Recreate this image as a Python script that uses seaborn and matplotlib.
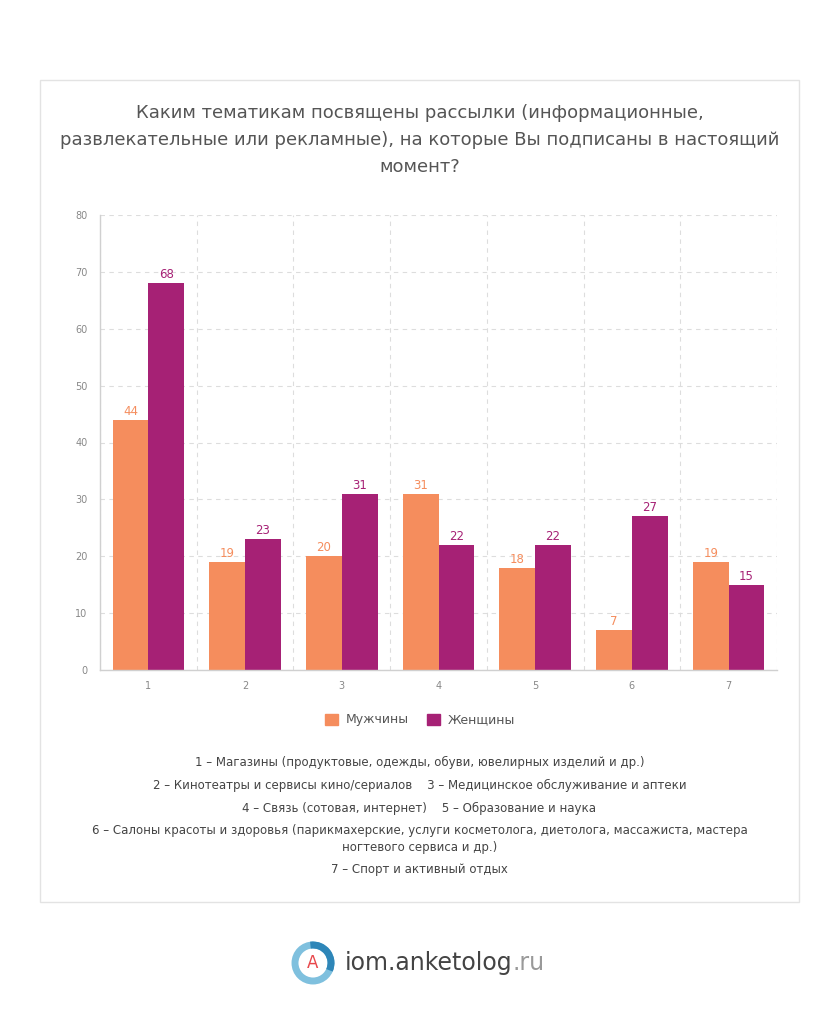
import matplotlib.pyplot as plt
import matplotlib.patches as mpatches
import pandas as pd
import seaborn as sns

# data
categories = ["1", "2", "3", "4", "5", "6", "7"]
men = [44, 19, 20, 31, 18, 7, 19]
women = [68, 23, 31, 22, 22, 27, 15]
series_names = ["Мужчины", "Женщины"]
colors = ["#F58D5D", "#A62175"]

title = ("Каким тематикам посвящены рассылки (информационные,\n"
         "развлекательные или рекламные), на которые Вы подписаны в настоящий\n"
         "момент?")
notes = [
    "1 – Магазины (продуктовые, одежды, обуви, ювелирных изделий и др.)",
    "2 – Кинотеатры и сервисы кино/сериалов    3 – Медицинское обслуживание и аптеки",
    "4 – Связь (сотовая, интернет)    5 – Образование и наука",
    "6 – Салоны красоты и здоровья (парикмахерские, услуги косметолога, диетолога, массажиста, мастера\nногтевого сервиса и др.)",
    "7 – Спорт и активный отдых",
]

df = pd.DataFrame({
    "cat": categories * 2,
    "value": men + women,
    "group": [series_names[0]] * len(men) + [series_names[1]] * len(women),
})

sns.set_style("white")
plt.rcParams['font.family'] = ['DejaVu Sans']

fig = plt.figure(figsize=(8.39, 10.24), dpi=100)
W, H = 839, 1024

# card border
fig.patches.append(mpatches.Rectangle((40 / W, 1 - 902 / H), 759 / W, 822 / H,
                                      transform=fig.transFigure, fill=False,
                                      edgecolor="#e3e3e3", linewidth=1))

ax = fig.add_axes([100 / W, 1 - 670 / H, 677 / W, 455 / H])
sns.barplot(data=df, x="cat", y="value", hue="group", palette=colors,
            width=0.74, gap=0, ax=ax, legend=False, saturation=1, linewidth=0)

for cont, c in zip(ax.containers, colors):
    ax.bar_label(cont, padding=1.5, color=c, fontsize=8.5)

ax.set_ylim(0, 80)
ax.set_xlim(-0.5, 6.5)
ax.set_yticks(range(0, 81, 10))
ax.set_xticks(range(7))
ax.set_xticklabels(categories)
ax.set_xticks([i - 0.5 for i in range(8)], minor=True)
ax.tick_params(axis="x", which="major", length=0, pad=8, labelsize=7, labelcolor="#888888")
ax.tick_params(axis="x", which="minor", length=5, color="#d0d0d0", direction="out")
ax.tick_params(axis="y", length=5, color="#d0d0d0", labelsize=7, labelcolor="#888888", pad=4)
ax.set_xlabel("")
ax.set_ylabel("")
ax.yaxis.grid(True, linestyle=(0, (4, 4)), color="#dddddd", linewidth=0.8)
ax.xaxis.grid(True, which="minor", linestyle=(0, (4, 4)), color="#dddddd", linewidth=0.8)
ax.set_axisbelow(True)
for s in ["top", "right"]:
    ax.spines[s].set_visible(False)
for s in ["left", "bottom"]:
    ax.spines[s].set_color("#d0d0d0")
    ax.spines[s].set_linewidth(1)

fig.text(0.5, 1 - 140 / H, title, ha="center", va="center", fontsize=13,
         color="#555555", linespacing=1.65)

handles = [mpatches.Patch(color=c, label=n) for c, n in zip(colors, series_names)]
fig.legend(handles=handles, loc="center", bbox_to_anchor=(420 / W, 1 - 720 / H),
           ncol=2, frameon=False, fontsize=9, handlelength=1, handleheight=1,
           columnspacing=1.5, handletextpad=0.6, labelcolor="#555555")

ys = [762, 785, 808, 839, 870]
for y, t in zip(ys, notes):
    fig.text(0.5, 1 - y / H, t, ha="center", va="center", fontsize=8.5,
             color="#444444", linespacing=1.4)

# logo
cx, cy = 313 / W, 1 - 963 / H
fig.patches.append(mpatches.Ellipse((cx, cy), 36 / W, 36 / H, transform=fig.transFigure,
                                    fill=False, edgecolor="#7FC0DE", linewidth=5))
fig.patches.append(mpatches.Arc((cx, cy), 36 / W, 36 / H, transform=fig.transFigure,
                                theta1=-20, theta2=100, edgecolor="#2E86B8", linewidth=5))
fig.text(cx, cy, "A", ha="center", va="center", fontsize=12, color="#E8474B")
t1 = fig.text(345 / W, cy, "iom.anketolog", ha="left", va="center", fontsize=17,
              color="#444444")
fig.text(0, 0, "", alpha=0)
ax.annotate(".ru", xy=(1, 0.5), xycoords=t1, ha="left", va="center",
            fontsize=17, color="#999999", annotation_clip=False)

fig.savefig("out.png", dpi=100, facecolor="white")
